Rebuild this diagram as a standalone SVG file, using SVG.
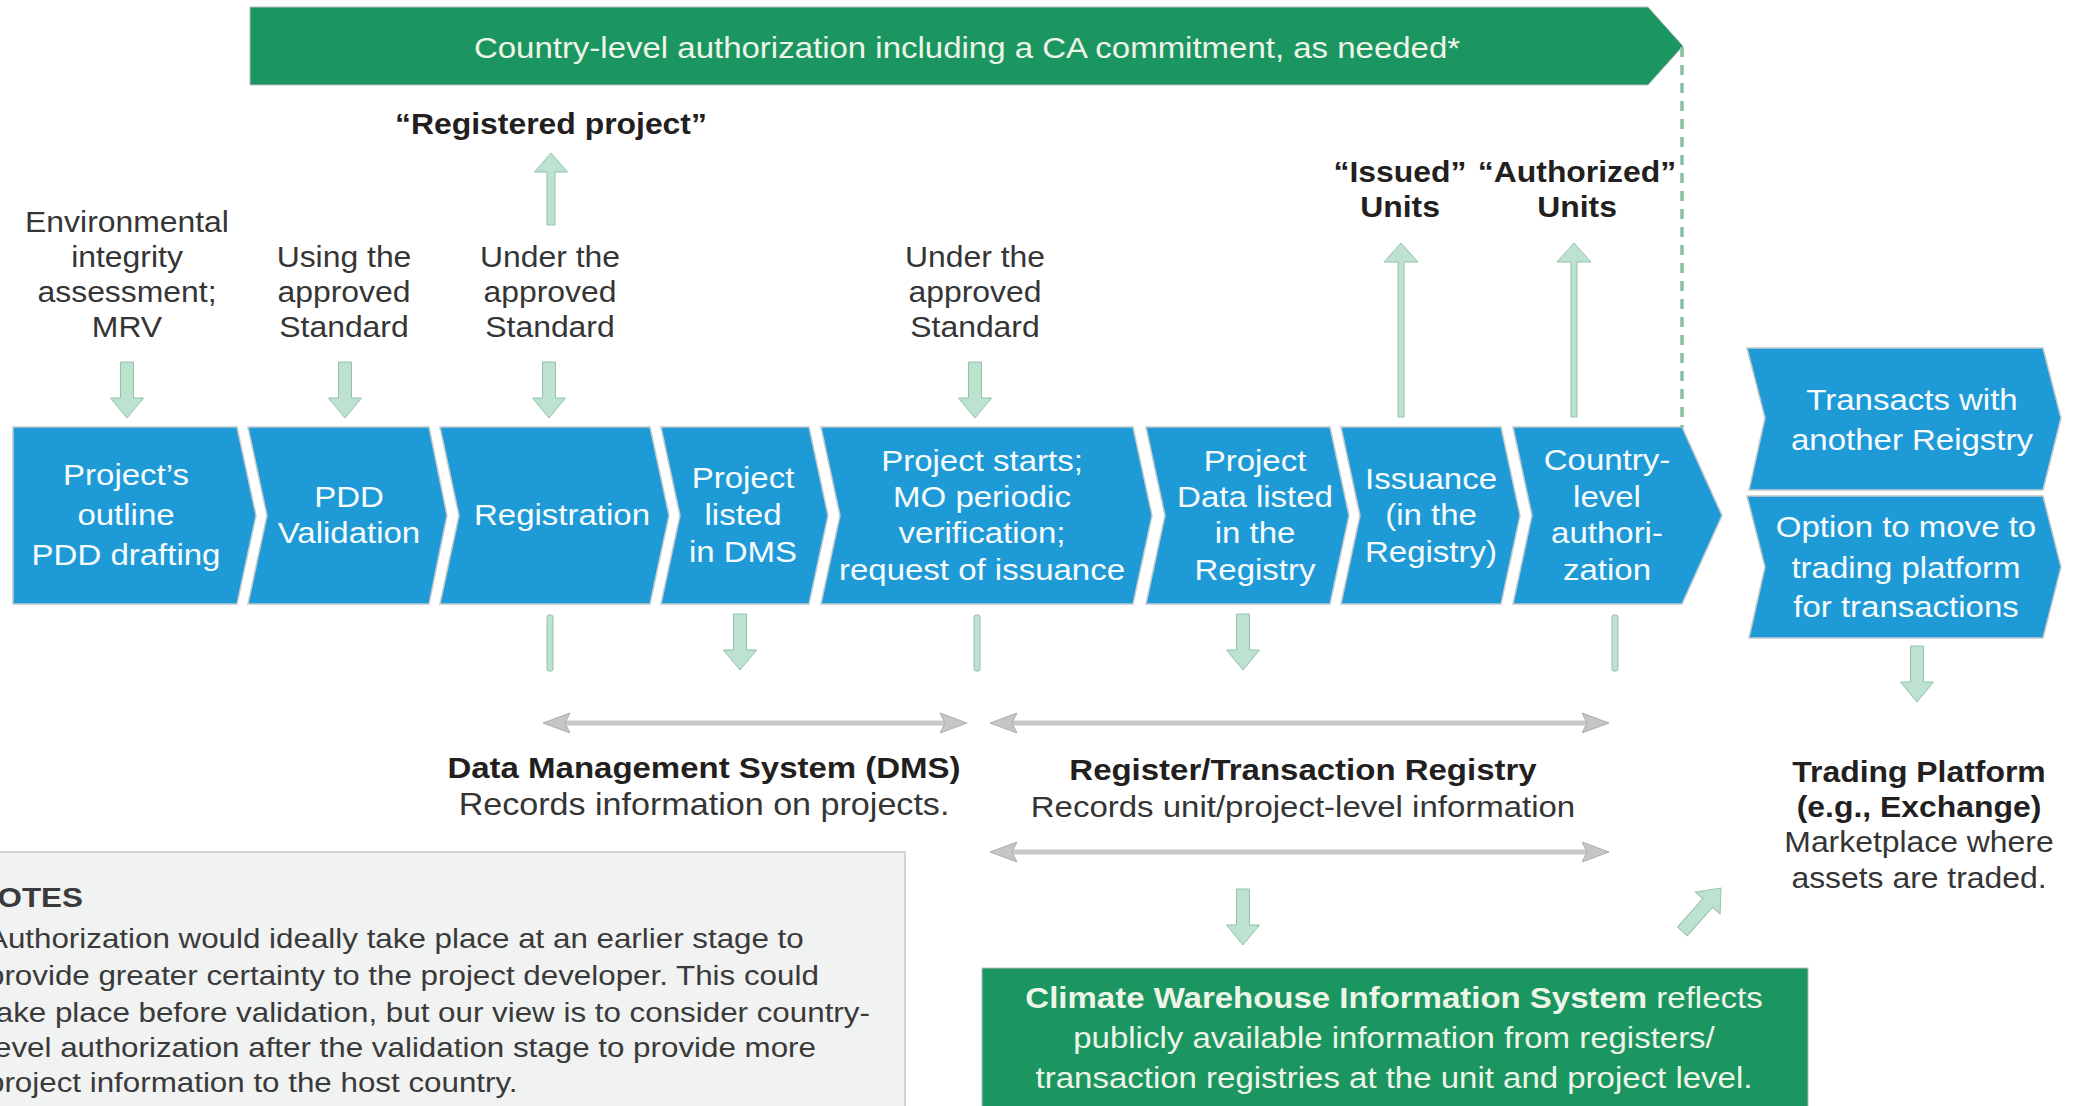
<svg xmlns="http://www.w3.org/2000/svg" width="2077" height="1106" viewBox="0 0 2077 1106">
<style>
text{font-family:"Liberation Sans",Arial,Helvetica,sans-serif}
.chev{fill:#1e9bd7;stroke:#c3c8cc;stroke-width:1.5}
.wt{font-size:30px;fill:#f8fbfd;text-anchor:middle}
.lbl{font-size:29px;fill:#353535;text-anchor:middle}
.bl{font-weight:bold;fill:#231f20}
.mint{fill:#bde2cf;stroke:#93c2aa;stroke-width:1}
.gline{stroke:#c9c9c9;stroke-width:5;fill:none}
.green{fill:#1b9661;stroke:#bdbdbd;stroke-width:1}
.gt{font-size:30px;fill:#eef5e8;text-anchor:middle}
.dash{stroke:#88c1a2;stroke-width:3.5;stroke-dasharray:10 8;fill:none}
.note{fill:#f1f2f2;stroke:#c6c6c6;stroke-width:1.5}
.nt{font-size:28.5px;fill:#3a3a3a}
</style>
<defs>
<path id="dn" class="mint" d="M-6.5,0 H6.5 V36 H16.5 L0,56 L-16.5,36 H-6.5 Z"/>
<rect id="stub" class="mint" x="-3" y="0" width="6" height="56" rx="2"/>
<marker id="gh" markerUnits="userSpaceOnUse" markerWidth="30" markerHeight="24" refX="7" refY="11" orient="auto-start-reverse">
<path d="M0,1 L27,11 L0,21 L5,11 Z" fill="#c6c6c6" stroke="#adadad" stroke-width="1"/>
</marker>
</defs>

<g id="banner">
<polygon class="green" points="250,7 1648,7 1683,46 1648,85 250,85"/>
<text class="gt" transform="translate(967 0) scale(1.1 1)" x="0" y="58">Country-level authorization including a CA commitment, as needed*</text>
</g>

<g id="label-registered"><text class="lbl bl" font-size="29.5" transform="translate(551 0) scale(1.1 1)" x="0" y="134">“Registered project”</text></g>
<g id="label-env"><text class="lbl" transform="translate(127 0) scale(1.1 1)"><tspan x="0" y="232">Environmental</tspan><tspan x="0" y="267">integrity</tspan><tspan x="0" y="302">assessment;</tspan><tspan x="0" y="337">MRV</tspan></text></g>
<g id="label-using"><text class="lbl" transform="translate(344 0) scale(1.1 1)"><tspan x="0" y="267">Using the</tspan><tspan x="0" y="302">approved</tspan><tspan x="0" y="337">Standard</tspan></text></g>
<g id="label-under1"><text class="lbl" transform="translate(550 0) scale(1.1 1)"><tspan x="0" y="267">Under the</tspan><tspan x="0" y="302">approved</tspan><tspan x="0" y="337">Standard</tspan></text></g>
<g id="label-under2"><text class="lbl" transform="translate(975 0) scale(1.1 1)"><tspan x="0" y="267">Under the</tspan><tspan x="0" y="302">approved</tspan><tspan x="0" y="337">Standard</tspan></text></g>
<g id="label-issued"><text class="lbl bl" transform="translate(1400 0) scale(1.1 1)"><tspan x="0" y="182">“Issued”</tspan><tspan x="0" y="217">Units</tspan></text></g>
<g id="label-authorized"><text class="lbl bl" transform="translate(1577 0) scale(1.1 1)"><tspan x="0" y="182">“Authorized”</tspan><tspan x="0" y="217">Units</tspan></text></g>

<g id="step1"><path class="chev" d="M13,427 L237,427 L256,515.5 L237,604 L13,604 Z"/>
<text class="wt" transform="translate(126 0) scale(1.1 1)"><tspan x="0" y="485">Project’s</tspan><tspan x="0" y="525">outline</tspan><tspan x="0" y="565">PDD drafting</tspan></text></g>
<g id="step2"><path class="chev" d="M248,427 L429,427 L447,515.5 L429,604 L248,604 L267,515.5 Z"/>
<text class="wt" transform="translate(349 0) scale(1.1 1)"><tspan x="0" y="507">PDD</tspan><tspan x="0" y="543">Validation</tspan></text></g>
<g id="step3"><path class="chev" d="M440,427 L650,427 L669,515.5 L650,604 L440,604 L459,515.5 Z"/>
<text class="wt" transform="translate(562 0) scale(1.1 1)" x="0" y="525">Registration</text></g>
<g id="step4"><path class="chev" d="M661,427 L809,427 L828,515.5 L809,604 L661,604 L680,515.5 Z"/>
<text class="wt" transform="translate(743 0) scale(1.1 1)"><tspan x="0" y="488">Project</tspan><tspan x="0" y="525">listed</tspan><tspan x="0" y="562">in DMS</tspan></text></g>
<g id="step5"><path class="chev" d="M821,427 L1133,427 L1152,515.5 L1133,604 L821,604 L840,515.5 Z"/>
<text class="wt" transform="translate(982 0) scale(1.1 1)"><tspan x="0" y="471">Project starts;</tspan><tspan x="0" y="507">MO periodic</tspan><tspan x="0" y="543">verification;</tspan><tspan x="0" y="580">request of issuance</tspan></text></g>
<g id="step6"><path class="chev" d="M1146,427 L1330,427 L1349,515.5 L1330,604 L1146,604 L1165,515.5 Z"/>
<text class="wt" transform="translate(1255 0) scale(1.1 1)"><tspan x="0" y="471">Project</tspan><tspan x="0" y="507">Data listed</tspan><tspan x="0" y="543">in the</tspan><tspan x="0" y="580">Registry</tspan></text></g>
<g id="step7"><path class="chev" d="M1341,427 L1501,427 L1520,515.5 L1501,604 L1341,604 L1360,515.5 Z"/>
<text class="wt" transform="translate(1431 0) scale(1.1 1)"><tspan x="0" y="489">Issuance</tspan><tspan x="0" y="525">(in the</tspan><tspan x="0" y="562">Registry)</tspan></text></g>
<g id="step8"><path class="chev" d="M1513,427 L1682,427 L1722,515.5 L1682,604 L1513,604 L1532,515.5 Z"/>
<text class="wt" transform="translate(1607 0) scale(1.1 1)"><tspan x="0" y="470">Country-</tspan><tspan x="0" y="507">level</tspan><tspan x="0" y="543">authori-</tspan><tspan x="0" y="580">zation</tspan></text></g>

<g id="transacts"><path class="chev" d="M1747,348 L2043,348 L2061,418 L2043,490 L1749,490 L1765,418 Z"/>
<text class="wt" transform="translate(1912 0) scale(1.1 1)"><tspan x="0" y="410">Transacts with</tspan><tspan x="0" y="450">another Reigstry</tspan></text></g>
<g id="option"><path class="chev" d="M1747,496 L2043,496 L2061,567 L2043,638 L1749,638 L1765,567 Z"/>
<text class="wt" transform="translate(1906 0) scale(1.1 1)"><tspan x="0" y="537">Option to move to</tspan><tspan x="0" y="578">trading platform</tspan><tspan x="0" y="617">for transactions</tspan></text></g>

<g id="dms"><text class="lbl" transform="translate(704 0) scale(1.1 1)"><tspan x="0" y="778" class="bl" font-size="30">Data Management System (DMS)</tspan><tspan x="0" y="815" font-size="31">Records information on projects.</tspan></text></g>
<g id="registry"><text class="lbl" transform="translate(1303 0) scale(1.1 1)"><tspan x="0" y="780" class="bl" font-size="30">Register/Transaction Registry</tspan><tspan x="0" y="817" font-size="30">Records unit/project-level information</tspan></text></g>
<g id="trading"><text class="lbl" transform="translate(1919 0) scale(1.1 1)" font-size="30"><tspan x="0" y="782" class="bl">Trading Platform</tspan><tspan x="0" y="817" class="bl">(e.g., Exchange)</tspan><tspan x="0" y="852">Marketplace where</tspan><tspan x="0" y="888">assets are traded.</tspan></text></g>

<g id="climate"><rect class="green" x="982" y="968" width="826" height="150"/>
<text class="gt" transform="translate(1394 0) scale(1.1 1)"><tspan x="0" y="1008"><tspan font-weight="bold">Climate Warehouse Information System</tspan> reflects</tspan><tspan x="0" y="1048">publicly available information from registers/</tspan><tspan x="0" y="1088">transaction registries at the unit and project level.</tspan></text></g>

<g id="notes"><rect class="note" x="-5" y="852" width="910" height="262"/>
<text class="nt" transform="translate(-13 0) scale(1.1 1)"><tspan x="-11" y="907" font-weight="bold">NOTES</tspan><tspan x="0" y="948">Authorization would ideally take place at an earlier stage to</tspan><tspan x="0" y="985">provide greater certainty to the project developer. This could</tspan><tspan x="0" y="1022">take place before validation, but our view is to consider country-</tspan><tspan x="0" y="1057">level authorization after the validation stage to provide more</tspan><tspan x="0" y="1092">project information to the host country.</tspan></text></g>

<g id="connectors">
<line class="dash" x1="1682" y1="47" x2="1682" y2="428"/>
<path class="mint" d="M547,225 V172 H534.5 L551,153 L567.5,172 H555 V225 Z"/>
<path class="mint" d="M1398,417 V262 H1384 L1401,243 L1418,262 H1404 V417 Z"/>
<path class="mint" d="M1571,417 V262 H1557 L1574,243 L1591,262 H1577 V417 Z"/>
<use href="#dn" x="127" y="362"/>
<use href="#dn" x="345" y="362"/>
<use href="#dn" x="549" y="362"/>
<use href="#dn" x="975" y="362"/>
<use href="#stub" x="550" y="615"/>
<use href="#stub" x="977" y="615"/>
<use href="#stub" x="1615" y="615"/>
<use href="#dn" x="740" y="614"/>
<use href="#dn" x="1243" y="614"/>
<use href="#dn" x="1243" y="889"/>
<use href="#dn" x="1917" y="646"/>
<path class="mint" transform="translate(1721 888) rotate(41.6)" d="M0,0 L16.5,20 H6.5 V58 H-6.5 V20 H-16.5 Z"/>
<line class="gline" x1="563" y1="723" x2="947" y2="723" marker-start="url(#gh)" marker-end="url(#gh)"/>
<line class="gline" x1="1010" y1="723" x2="1589" y2="723" marker-start="url(#gh)" marker-end="url(#gh)"/>
<line class="gline" x1="1010" y1="852" x2="1589" y2="852" marker-start="url(#gh)" marker-end="url(#gh)"/>
</g>
</svg>
